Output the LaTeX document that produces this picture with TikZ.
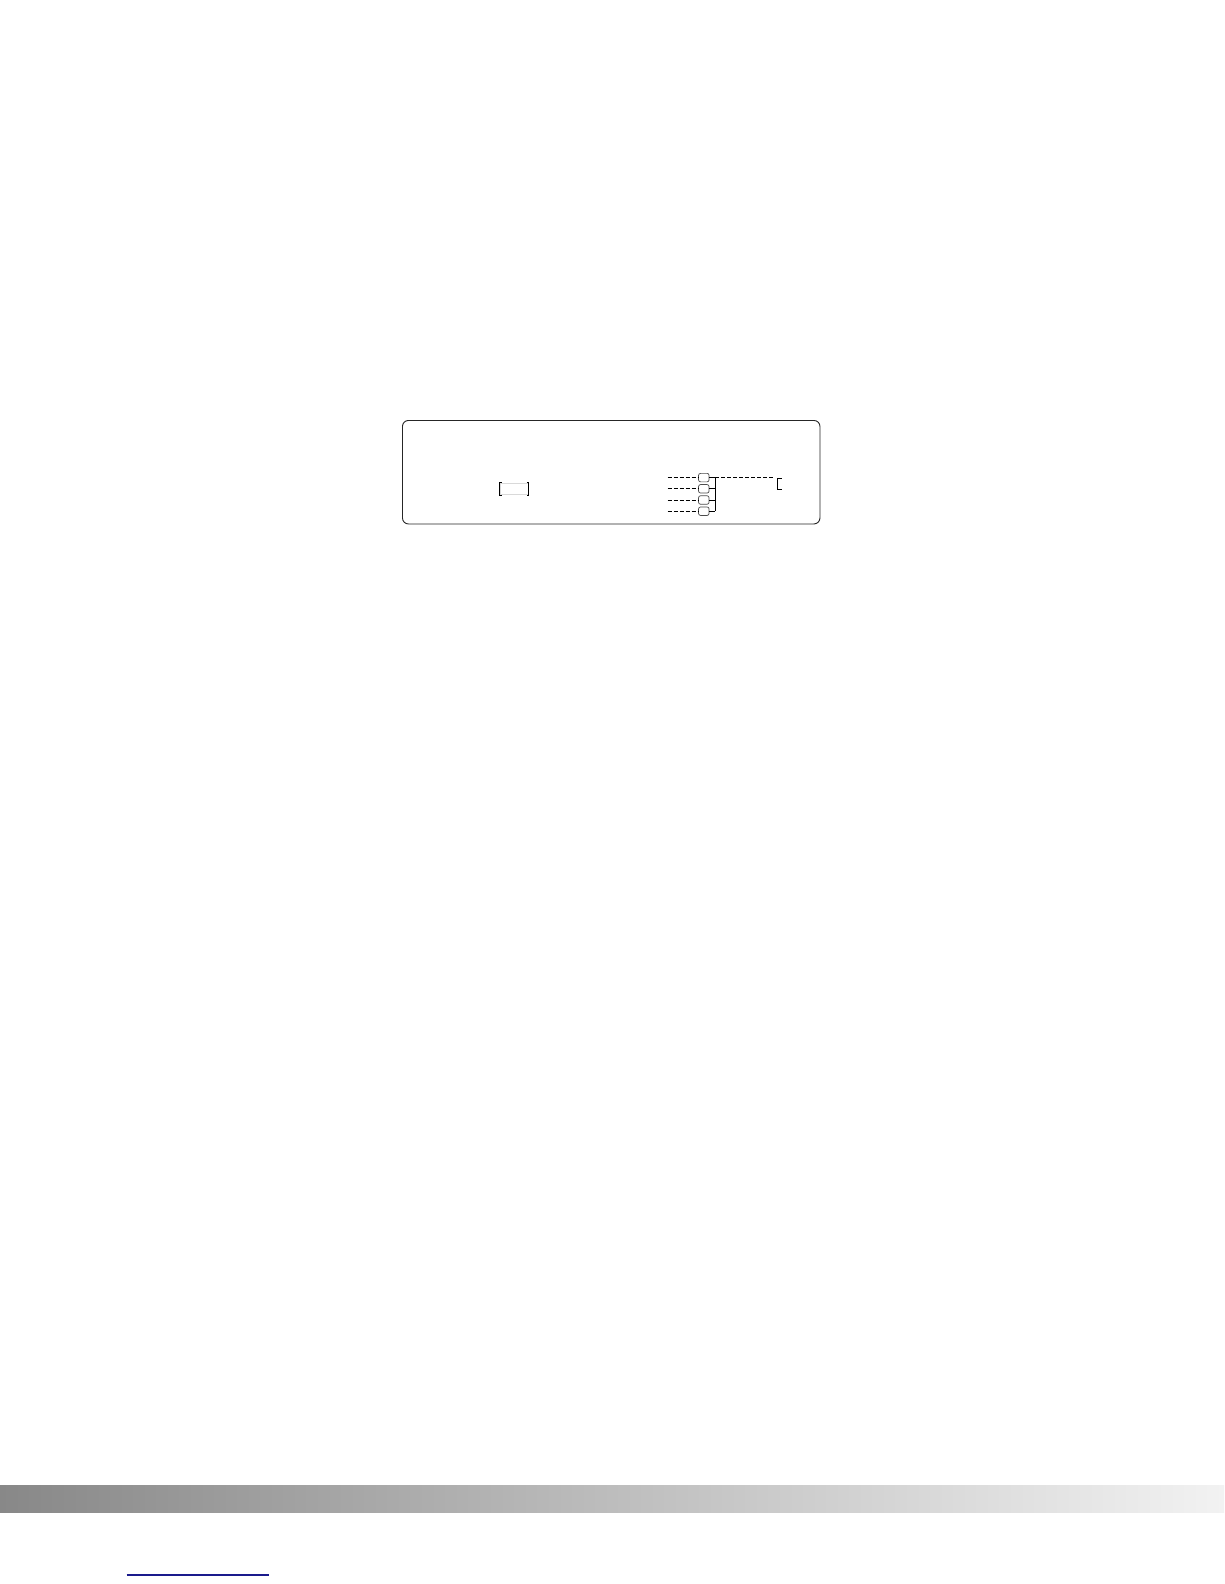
\documentclass[tikz,border=0pt]{standalone}
\definecolor{barL}{HTML}{888888}
\definecolor{barR}{HTML}{F2F2F2}
\definecolor{linkblue}{HTML}{1A1A8C}
\begin{document}
\begin{tikzpicture}[x=1pt,y=-1pt,
  frame/.style={draw=black!85, rounded corners=6pt, line width=0.9pt, inner sep=0pt},
  port/.style={draw=black!70, rounded corners=2pt, minimum width=10.5pt, minimum height=8.5pt, inner sep=0pt, line width=0.7pt},
  slot/.style={draw=black!15, minimum width=28.5pt, minimum height=11.5pt, inner sep=0pt, line width=0.7pt},
  wire/.style={line width=0.8pt, black},
  dwire/.style={line width=0.8pt, black, dash pattern=on 4pt off 2pt}]
\useasboundingbox (0,0) rectangle (1224,1584);
\fill[white] (0,0) rectangle (1224,1584);
% outer panel
\node[frame, minimum width=417.5pt, minimum height=103.5pt] (panel) at (611.2,472.2) {};
% left slot
\node[slot] (slotA) at (514.2,488.8) {};
\draw[wire] ([xshift=2pt]slotA.north west) -- (slotA.north west) -- (slotA.south west) -- ([xshift=2pt]slotA.south west);
\draw[wire] ([xshift=-2pt]slotA.north east) -- (slotA.north east) -- (slotA.south east) -- ([xshift=-2pt]slotA.south east);
% ports
\foreach \i/\yy in {1/477.6, 2/488.8, 3/500.0, 4/511.2} {
  \node[port] (p\i) at (703.8,\yy) {};
  \coordinate (in\i) at (667.7,\yy);
  \coordinate (bus\i) at (715,\yy);
  \draw[dwire] (in\i) -- (p\i.west);
  \draw[wire] (p\i.east) -- (bus\i);
}
\draw[wire] (bus1) -- (bus4);
% output line and bracket
\coordinate (outA) at (773.5,477.6);
\coordinate (brTE) at (781.5,478.5);
\coordinate (brT) at (777.5,478.5);
\coordinate (brB) at (777.5,489.5);
\coordinate (brE) at (781.5,489.5);
\draw[dwire] (bus1) -- (outA);
\draw[wire] (brTE) -- (brT) -- (brB) -- (brE);
% footer bar
\shade[left color=barL, right color=barR] (0,1485) rectangle (1224,1512);
% footer link line
\coordinate (lkA) at (126.7,1575);
\coordinate (lkB) at (269,1575);
\draw[linkblue, line width=1.2pt] (lkA) -- (lkB);
\end{tikzpicture}
\end{document}
